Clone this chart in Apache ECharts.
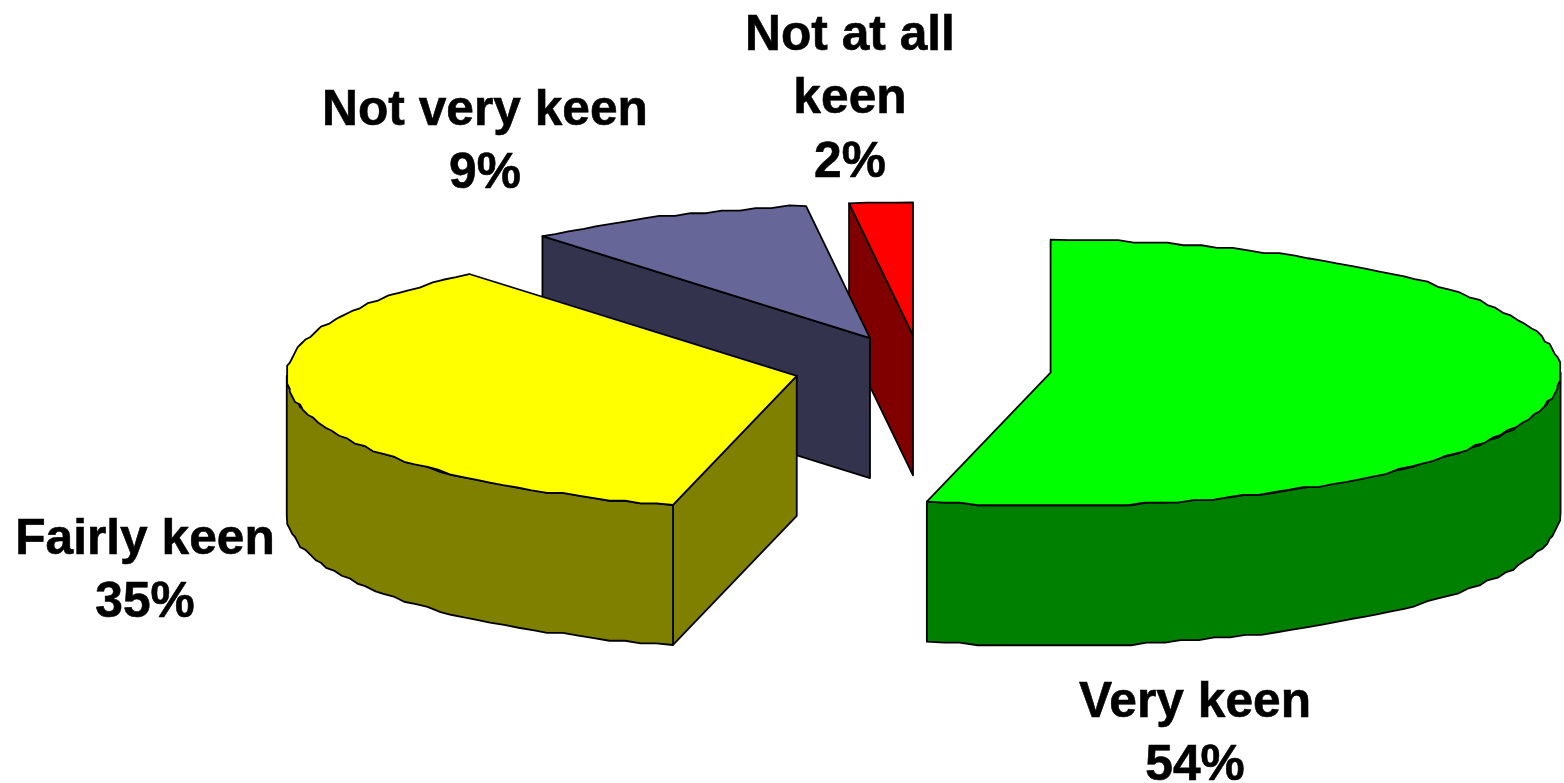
<!DOCTYPE html>
<html>
<head>
<meta charset="utf-8">
<style>
  html, body { margin: 0; padding: 0; background: #fff; }
  #main { width: 1564px; height: 783px; }
</style>
<script src="https://cdn.jsdelivr.net/npm/echarts@6/dist/echarts.min.js"></script>
</head>
<body>
<div id="main"></div>
<script>
  const categories = ['Very keen', 'Fairly keen', 'Not very keen', 'Not at all keen'];
  // labels show them rounded
  const shares = [53.9, 35, 9.1, 2];
  const labelLines = [['Very keen'], ['Fairly keen'], ['Not very keen'], ['Not at all', 'keen']];
  const topColors = ['#00ff00', '#ffff00', '#666699', '#ff0000'];
  const wallColors = ['#008000', '#808000', '#33334d', '#800000'];

  // pie geometry, the whole thing is an ellipse plus a drop for the wall
  const CX = 921;
  const CY = 368.5;
  const RX = 510;
  const RY = 133;
  const DEPTH = 140;
  const explode = [0.256, 0.25, 0.25, 0.25];
  // outline is stepped in the original, snap rim points to a coarse grid
  const GRID = 2.6;
  const labelPos = [[1195, 703], [145, 540], [485, 111], [850, 36]];
  const LINE_H = 63.5;

  const total = shares.reduce((a, b) => a + b, 0);
  let running = 0;
  const rows = categories.map((name, i) => {
    const row = { name, value: [i, running, shares[i]] };
    running += shares[i];
    return row;
  });
  // back slices first so front ones paint over them
  rows.reverse();

  const snap = v => Math.round(v / GRID) * GRID;

  function renderSlice(params, api) {
    const i = api.value(0);
    const a0 = api.value(1) / total * Math.PI * 2;
    const a1 = a0 + api.value(2) / total * Math.PI * 2;
    const mid = (a0 + a1) / 2;
    const ox = CX + explode[i] * RX * Math.sin(mid);
    const oy = CY - explode[i] * RY * Math.cos(mid);
    const at = (a, drop) => [ox + RX * Math.sin(a), oy - RY * Math.cos(a) + (drop || 0)];
    const rimAt = (a, drop) => {
      const p = at(a);
      return [ox + snap(p[0] - ox), oy + snap(p[1] - oy) + (drop || 0)];
    };
    const line = { stroke: '#000', lineWidth: 1.8, lineJoin: 'round' };
    const steps = Math.max(2, Math.round((a1 - a0) * 30));

    const topFace = [[ox, oy], at(a0)];
    for (let s = 1; s < steps; s++) {
      topFace.push(rimAt(a0 + (a1 - a0) * s / steps));
    }
    topFace.push(at(a1));

    const children = [];
    // wall along the first cut, only when it faces the viewer
    if (a0 > 0) {
      children.push({
        type: 'polygon',
        shape: { points: [[ox, oy], at(a0), at(a0, DEPTH), [ox, oy + DEPTH]] },
        style: { fill: wallColors[i], ...line },
      });
    }
    // outer rim, front half of the ellipse only
    const r0 = Math.max(a0, Math.PI / 2);
    const r1 = Math.min(a1, Math.PI * 1.5);
    if (r1 > r0) {
      const rim = [];
      const rimSteps = Math.round((r1 - r0) * 30);
      const rimPoint = (s, drop) => {
        const a = r0 + (r1 - r0) * s / rimSteps;
        return s === 0 || s === rimSteps ? at(a, drop) : rimAt(a, drop);
      };
      for (let s = 0; s <= rimSteps; s++) {
        rim.push(rimPoint(s, 0));
      }
      for (let s = rimSteps; s >= 0; s--) {
        rim.push(rimPoint(s, DEPTH));
      }
      children.push({
        type: 'polygon',
        shape: { points: rim },
        style: { fill: wallColors[i], ...line },
      });
    }
    children.push({
      type: 'polygon',
      shape: { points: topFace },
      style: { fill: topColors[i], ...line },
    });
    children.push({
      type: 'text',
      style: {
        x: labelPos[i][0],
        y: labelPos[i][1] - LINE_H / 2,
        text: labelLines[i].concat(Math.round(api.value(2)) + '%').join('\n'),
        fontFamily: '"Liberation Sans", Arial, sans-serif',
        fontWeight: 'bold',
        fontSize: 49.7,
        lineHeight: LINE_H,
        fill: '#000',
        stroke: '#000',
        lineWidth: 0.6,
        align: 'center',
        verticalAlign: 'top',
      },
      z2: 100,
    });
    return { type: 'group', children };
  }

  const myChart = echarts.init(document.getElementById('main'), null, { renderer: 'canvas' });
  myChart.setOption({
    backgroundColor: '#fff',
    animation: false,
    series: [{
      type: 'custom',
      coordinateSystem: 'none',
      renderItem: renderSlice,
      data: rows,
    }],
  });
</script>
</body>
</html>
